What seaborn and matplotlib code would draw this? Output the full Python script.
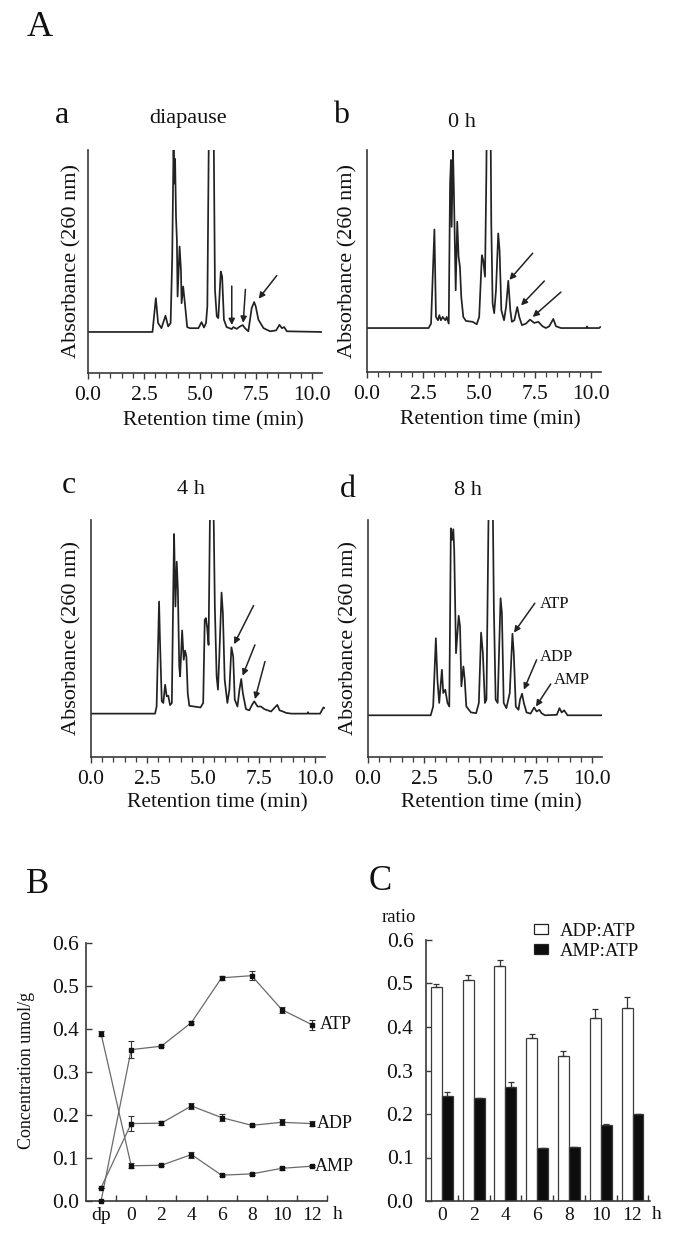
import matplotlib
matplotlib.use("Agg")
import matplotlib.pyplot as plt
import matplotlib.patches as mpatches
from matplotlib.ticker import MultipleLocator, FixedLocator, FormatStrFormatter
import numpy as np
import pandas as pd
import seaborn as sns

W, H = 685, 1250

# chromatogram traces (retention time min, absorbance in % of panel height)
diapause_trace = [
    (0, 18.4), (2.88, 18.4), (3.03, 33.6), (3.13, 22.4), (3.28, 20.1), (3.46, 25.7), (3.58, 20.9),
    (3.69, 22.4), (3.76, 51.5), (3.82, 102), (3.855, 85), (3.89, 96), (3.93, 70), (3.97, 59.7),
    (4.0, 34.3), (4.09, 56.7), (4.15, 46.3), (4.18, 31.3), (4.25, 38.8), (4.34, 29.9), (4.43, 20.6),
    (4.55, 20.1), (4.93, 20.1), (5.07, 22.8), (5.18, 20.4), (5.27, 22.4), (5.33, 30), (5.39, 100),
    (5.42, 140), (5.59, 140), (5.62, 100), (5.67, 37.3), (5.75, 25.4), (5.82, 24.6), (5.93, 45.5),
    (5.99, 43.3), (6.07, 23.9), (6.19, 20.6), (6.42, 19.7), (6.49, 20.6), (6.64, 19.8), (6.79, 20.9),
    (6.91, 21.5), (7.01, 20.1), (7.16, 18.7), (7.31, 29.1), (7.42, 31.8), (7.49, 29.9), (7.61, 23.9),
    (7.84, 20.1), (8.13, 18.7), (8.40, 19.1), (8.55, 21.6), (8.66, 20.1), (8.76, 20.6), (8.88, 18.7),
    (10.45, 18.4),
]
h0_trace = [
    (0, 19.8), (2.75, 19.8), (2.86, 21.8), (3.01, 64.2), (3.08, 24.8), (3.17, 23.3), (3.23, 25.6),
    (3.30, 23.3), (3.38, 24.8), (3.50, 23.3), (3.56, 24.8), (3.65, 21.8), (3.71, 85), (3.75, 95.5),
    (3.78, 65.4), (3.84, 100), (3.88, 82), (3.96, 36.8), (4.03, 67.7), (4.09, 51.9), (4.15, 47.4),
    (4.21, 33.8), (4.30, 24.8), (4.42, 23), (4.72, 22.6), (4.90, 21.5), (5.01, 24.8), (5.13, 52.6),
    (5.19, 50.4), (5.27, 42.9), (5.33, 89.5), (5.37, 140), (5.50, 140), (5.55, 66.9), (5.61, 30.8),
    (5.68, 26.5), (5.76, 36.8), (5.86, 62.4), (5.92, 54.9), (6.00, 27.8), (6.12, 23.3), (6.21, 29.3),
    (6.31, 41.1), (6.40, 27.8), (6.47, 22.6), (6.58, 23.3), (6.71, 29.3), (6.80, 24.8), (6.92, 21.1),
    (7.10, 21.8), (7.28, 23.6), (7.47, 22.1), (7.65, 22.6), (7.84, 20.6), (7.99, 19.8), (8.14, 20.6),
    (8.32, 23.9), (8.44, 20.6), (8.66, 19.8), (9.80, 19.8), (9.83, 20.5), (9.86, 19.8), (10.37, 19.8),
    (10.42, 20.3),
]
h4_trace = [
    (0, 18.3), (2.86, 18.3), (2.93, 21.3), (3.04, 65.6), (3.08, 49.4), (3.16, 23.5), (3.23, 22.8),
    (3.31, 30.5), (3.38, 25.6), (3.45, 25.9), (3.53, 21.9), (3.61, 22.8), (3.68, 74.7), (3.71, 94.1),
    (3.77, 63.5), (3.83, 82.4), (3.88, 70.5), (3.94, 38.2), (3.98, 34), (4.07, 53.4), (4.14, 41),
    (4.20, 44.9), (4.26, 42.4), (4.32, 26.9), (4.39, 21.6), (4.89, 20.9), (5.01, 22.8), (5.08, 57.9),
    (5.13, 58.6), (5.19, 54.4), (5.25, 47.3), (5.31, 100), (5.33, 140), (5.46, 140), (5.48, 100),
    (5.53, 63.5), (5.61, 34), (5.67, 28.4), (5.73, 42.4), (5.83, 69.4), (5.89, 60.7), (5.97, 32.6),
    (6.09, 22.8), (6.18, 28.4), (6.27, 46.3), (6.35, 42.4), (6.42, 24.2), (6.54, 21.3), (6.63, 28.4),
    (6.71, 32.9), (6.78, 27), (6.92, 20.2), (7.07, 19.7), (7.19, 22), (7.29, 23.5), (7.44, 21.3),
    (7.59, 21.3), (7.74, 20.2), (7.89, 19.7), (8.04, 19.2), (8.32, 22), (8.42, 19.7), (8.57, 19.2),
    (8.72, 18.6), (8.95, 18.3), (9.66, 18.3), (9.69, 18.9), (9.72, 18.3), (10.23, 18.3),
    (10.38, 20.9), (10.45, 20.6),
]
h8_trace = [
    (0, 17.6), (2.80, 17.6), (2.91, 21.3), (3.03, 50.1), (3.10, 32.6), (3.18, 22.8), (3.30, 36.8),
    (3.36, 27), (3.45, 28.4), (3.55, 22.8), (3.63, 21.3), (3.70, 96.5), (3.75, 91.6), (3.81, 96.1),
    (3.85, 87.4), (3.93, 43.8), (4.05, 59.6), (4.11, 55.1), (4.17, 29.8), (4.26, 38.2), (4.32, 32.6),
    (4.39, 21.3), (4.60, 18.8), (4.83, 18.5), (4.95, 22.8), (5.05, 52.5), (5.13, 43.8), (5.22, 22.8),
    (5.29, 24.2), (5.38, 100), (5.40, 140), (5.56, 140), (5.58, 100), (5.62, 63.5), (5.70, 24.2),
    (5.79, 22.8), (5.92, 67), (5.98, 60.7), (6.06, 22.8), (6.18, 20.6), (6.33, 27), (6.45, 52),
    (6.51, 43.8), (6.60, 21.3), (6.72, 19.9), (6.79, 24.2), (6.88, 26.7), (6.96, 22.8), (7.08, 18.8),
    (7.26, 18.3), (7.42, 20.9), (7.53, 19.2), (7.65, 19.9), (7.75, 18.5), (7.90, 17.6), (8.43, 17.8),
    (8.55, 20.6), (8.65, 18.8), (8.76, 19.7), (8.91, 17.6), (10.45, 17.6),
]

# arrows pointing at the nucleotide peaks: (tail, tip)
diapause_arrows = [((6.42, 39), (6.42, 21.5)), ((7.03, 37.5), (6.93, 22.5)), ((8.43, 43.7), (7.62, 33.3))]
h0_arrows = [((7.40, 53.5), (6.36, 41.5)), ((7.92, 41), (6.88, 30)), ((8.66, 36), (7.40, 24.8))]
h4_arrows = [((7.26, 63.9), (6.39, 47.6)), ((7.32, 47.3), (6.77, 34.3)), ((7.77, 40.3), (7.32, 24.4))]
h8_arrows = [((7.45, 64.9), (6.52, 52.5)), ((7.53, 41), (6.96, 28.4)), ((8.16, 30.8), (7.50, 21.3))]
h8_peak_names = [("ATP", 7.66, 64.5), ("ADP", 7.66, 42), ("AMP", 8.28, 32.3)]

# panel B: concentration (umol/g)
times_B = ["dp", "0", "2", "4", "6", "8", "10", "12"]
atp = [0.0, 0.352, 0.360, 0.415, 0.519, 0.524, 0.445, 0.410]
atp_err = [0.0, 0.019, 0.003, 0.003, 0.004, 0.011, 0.007, 0.012]
adp = [0.031, 0.180, 0.181, 0.221, 0.194, 0.176, 0.183, 0.180]
adp_err = [0.0, 0.017, 0.004, 0.006, 0.008, 0.002, 0.007, 0.006]
amp = [0.389, 0.082, 0.083, 0.108, 0.060, 0.063, 0.076, 0.081]
amp_err = [0.006, 0.006, 0.002, 0.007, 0.002, 0.003, 0.003, 0.003]

# panel C: ratios
times_C = ["0", "2", "4", "6", "8", "10", "12"]
adp_atp = [0.491, 0.507, 0.541, 0.375, 0.333, 0.420, 0.443]
adp_atp_err = [0.008, 0.012, 0.012, 0.010, 0.011, 0.021, 0.027]
amp_atp = [0.241, 0.236, 0.261, 0.122, 0.123, 0.175, 0.199]
amp_atp_err = [0.010, 0.0, 0.012, 0.0, 0.002, 0.002, 0.001]

LINE = "#222222"
AXC = "#3a3a3a"

sns.set_style("ticks")
plt.rcParams["font.family"] = ["Liberation Serif", "DejaVu Serif"]
plt.rcParams["axes.edgecolor"] = AXC
plt.rcParams["axes.linewidth"] = 1.2
plt.rcParams["xtick.color"] = AXC
plt.rcParams["ytick.color"] = AXC
plt.rcParams["xtick.labelcolor"] = "#111111"
plt.rcParams["ytick.labelcolor"] = "#111111"
plt.rcParams["text.color"] = "#111111"


def box(left, top, right, bottom):
    return [left / W, 1 - bottom / H, (right - left) / W, (bottom - top) / H]


def put(fig, x, y, s, **kw):
    fig.text(x / W, 1 - y / H, s, **kw)


fig = plt.figure(figsize=(W / 100, H / 100), dpi=100)


def chromatogram(rect, trace, arrows):
    ax = fig.add_axes(box(*rect))
    df = pd.DataFrame(trace, columns=["t", "a"])
    sns.lineplot(data=df, x="t", y="a", estimator=None, sort=False, color=LINE, linewidth=1.25, ax=ax)
    ax.set_xlim(0, 10.45)
    ax.set_ylim(0, 100)
    ax.xaxis.set_major_locator(MultipleLocator(2.5))
    ax.xaxis.set_minor_locator(MultipleLocator(0.5))
    ax.xaxis.set_major_formatter(FormatStrFormatter("%.1f"))
    ax.set_yticks([])
    ax.set_xlabel("")
    ax.set_ylabel("")
    sns.despine(ax=ax)
    ax.tick_params(axis="x", which="major", direction="out", length=4.5, width=1, labelsize=15.5, pad=5)
    ax.tick_params(axis="x", which="minor", direction="out", length=3.5, width=0.9)
    for tail, tip in arrows:
        ax.annotate("", xy=tip, xytext=tail,
                    arrowprops=dict(arrowstyle="-|>", color=LINE, lw=1.1, mutation_scale=9,
                                    shrinkA=0, shrinkB=0))
    return ax


ax_a = chromatogram((88, 150, 322, 373), diapause_trace, diapause_arrows)
ax_b = chromatogram((367, 150, 601, 372), h0_trace, h0_arrows)
ax_c = chromatogram((91, 520, 325, 757), h4_trace, h4_arrows)
ax_d = chromatogram((368, 520, 602, 757), h8_trace, h8_arrows)
for name, x, y in h8_peak_names:
    ax_d.text(x, y, name, fontsize=12, ha="left", va="center")

for cx, cy in [(72, 261), (348, 261), (72, 638), (349, 638)]:
    put(fig, cx, cy, "Absorbance (260 nm)", fontsize=16, rotation=90, ha="center", va="center")
for cx, cy in [(213, 421), (490, 420), (217, 803), (491, 803)]:
    put(fig, cx, cy, "Retention time (min)", fontsize=15.5, ha="center", va="center")

put(fig, 27, 36, "A", fontsize=26, ha="left", va="baseline")
put(fig, 55, 123, "a", fontsize=23, ha="left", va="baseline")
put(fig, 188, 123, "diapause", fontsize=16, ha="center", va="baseline")
put(fig, 333, 123, "b", fontsize=23, ha="left", va="baseline")
put(fig, 462, 127, "0 h", fontsize=16, ha="center", va="baseline")
put(fig, 62, 493, "c", fontsize=23, ha="left", va="baseline")
put(fig, 191, 494, "4 h", fontsize=16, ha="center", va="baseline")
put(fig, 340, 497, "d", fontsize=23, ha="left", va="baseline")
put(fig, 468, 495, "8 h", fontsize=16, ha="center", va="baseline")
put(fig, 26, 893, "B", fontsize=25, ha="left", va="baseline")
put(fig, 369, 890, "C", fontsize=25, ha="left", va="baseline")

# ---- panel B
ax_B = fig.add_axes(box(86, 943, 327, 1201))
series_B = {"ATP": (atp, atp_err, 7.27), "ADP": (adp, adp_err, 7.17), "AMP": (amp, amp_err, 7.1)}
dfB = pd.DataFrame([{"time": t, "conc": v, "nuc": k}
                    for k, (vals, _, _) in series_B.items() for t, v in zip(times_B, vals)])
sns.pointplot(data=dfB, x="time", y="conc", hue="nuc", order=times_B,
              palette={k: "#6a6a6a" for k in series_B}, markers="s", markersize=2.5,
              linewidth=0.9, errorbar=None, legend=False, ax=ax_B)
for k, (vals, errs, lx) in series_B.items():
    ax_B.errorbar(range(len(times_B)), vals, yerr=errs, fmt="s", ms=2.6, color="#111111",
                  ecolor="#333333", elinewidth=0.8, capsize=2, capthick=0.8, clip_on=False, zorder=5)
    ax_B.text(lx, vals[-1], k, fontsize=13, ha="left", va="center")
ax_B.set_xlim(-0.5, 7.5)
ax_B.set_ylim(0, 0.6)
ax_B.yaxis.set_major_locator(MultipleLocator(0.1))
ax_B.yaxis.set_major_formatter(FormatStrFormatter("%.1f"))
ax_B.xaxis.set_minor_locator(FixedLocator(np.arange(0.5, 8, 1)))
ax_B.set_xlabel("")
ax_B.set_ylabel("")
sns.despine(ax=ax_B)
ax_B.tick_params(axis="x", which="major", length=0, labelsize=14, pad=4)
ax_B.tick_params(axis="x", which="minor", direction="in", length=4, width=1)
ax_B.tick_params(axis="y", direction="in", length=4, width=1, labelsize=15.5, pad=5)
put(fig, 27, 1070, "Concentration umol/g", fontsize=13, rotation=90, ha="center", va="center")
put(fig, 338, 1219, "h", fontsize=14, ha="center", va="baseline")

# ---- panel C
ax_C = fig.add_axes(box(426, 940, 650, 1201))
dfC = pd.DataFrame({"time": times_C * 2,
                    "ratio": adp_atp + amp_atp,
                    "kind": ["ADP:ATP"] * len(times_C) + ["AMP:ATP"] * len(times_C)})
colors_C = {"ADP:ATP": "white", "AMP:ATP": "#0d0d0d"}
sns.barplot(data=dfC, x="time", y="ratio", hue="kind", order=times_C, palette=colors_C,
            saturation=1, width=0.69, errorbar=None, edgecolor="#3a3a3a", linewidth=0.9,
            legend=False, ax=ax_C)
for cont, errs in zip(ax_C.containers, [adp_atp_err, amp_atp_err]):
    xs = [b.get_x() + b.get_width() / 2 for b in cont]
    ys = [b.get_height() for b in cont]
    ax_C.errorbar(xs, ys, yerr=[np.zeros(len(errs)), errs], fmt="none", ecolor="#333333",
                  elinewidth=0.9, capsize=2.2, capthick=0.9, zorder=4)
ax_C.set_xlim(-0.5, 6.55)
ax_C.set_ylim(0, 0.6)
ax_C.yaxis.set_major_locator(MultipleLocator(0.1))
ax_C.yaxis.set_major_formatter(FormatStrFormatter("%.1f"))
ax_C.xaxis.set_minor_locator(FixedLocator(np.arange(0.5, 7, 1)))
ax_C.set_xlabel("")
ax_C.set_ylabel("")
sns.despine(ax=ax_C)
ax_C.tick_params(axis="x", which="major", length=0, labelsize=14, pad=4)
ax_C.tick_params(axis="x", which="minor", direction="in", length=4, width=1)
ax_C.tick_params(axis="y", direction="in", length=4, width=1, labelsize=15.5, pad=9)
handles = [mpatches.Patch(facecolor=colors_C[k], edgecolor="#222222", linewidth=0.9, label=k)
           for k in colors_C]
ax_C.legend(handles=handles, loc="upper left", bbox_to_anchor=(534 / W, 1 - 923 / H),
            bbox_transform=fig.transFigure, frameon=False, fontsize=13.5, borderpad=0,
            borderaxespad=0, handlelength=0.75, handleheight=0.42, handletextpad=0.65,
            labelspacing=0.15)
put(fig, 382, 922, "ratio", fontsize=13.5, ha="left", va="baseline")
put(fig, 657, 1219, "h", fontsize=14, ha="center", va="baseline")

fig.savefig("out.png", dpi=100)
